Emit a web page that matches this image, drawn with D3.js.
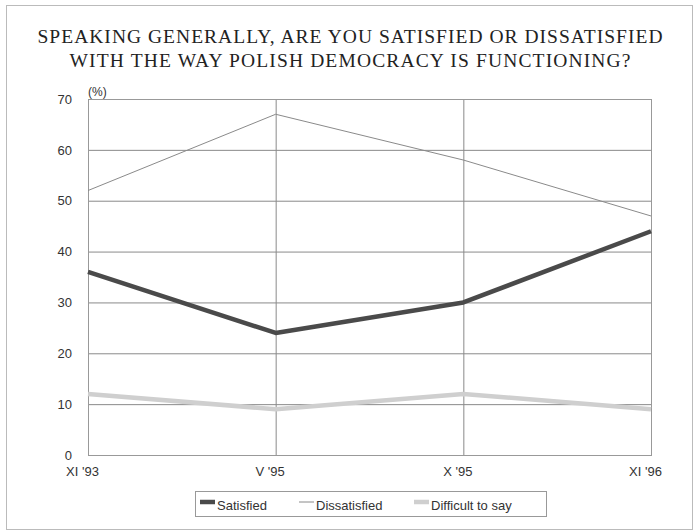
<!DOCTYPE html>
<html><head><meta charset="utf-8">
<script src="https://cdn.jsdelivr.net/npm/d3@7"></script>
<style>body{margin:0;background:#fff}svg{display:block}</style>
</head><body>
<svg id="c" width="693" height="532"></svg>
<script>
const categories = ["XI '93", "V '95", "X '95", "XI '96"];
const satisfied = [36, 24, 30, 44];
const dissatisfied = [52, 67, 58, 47];
const difficult = [12, 9, 12, 9];
const yTicks = [0, 10, 20, 30, 40, 50, 60, 70];
const titleLines = ["SPEAKING GENERALLY, ARE YOU SATISFIED OR DISSATISFIED", "WITH THE WAY POLISH DEMOCRACY IS FUNCTIONING?"];
const seriesNames = ["Satisfied", "Dissatisfied", "Difficult to say"];

const svg = d3.select("#c");
const L = 88, R = 651, T = 99, B = 455;
const x = d3.scalePoint().domain(categories).range([L, R]);
const y = d3.scaleLinear().domain([0, 70]).range([B, T]);
const SANS = '"Liberation Sans", Arial, sans-serif';

// outer frame
svg.append("rect").attr("x", 6.5).attr("y", 5.5).attr("width", 686).attr("height", 524)
  .attr("fill", "none").attr("stroke", "#bbb").attr("stroke-width", 1);

// title
const titleWidths = [625, 561];
titleLines.forEach((t, i) => {
  const tx = svg.append("text").attr("y", 43 + i * 24)
    .style("font-family", '"Liberation Serif"').style("font-size", "19.5px").style("fill", "#222")
    .text(t);
  const w = tx.node().getComputedTextLength();
  const ls = (titleWidths[i] - w) / (t.length - 1);
  tx.style("letter-spacing", ls + "px");
  const w2 = tx.node().getComputedTextLength();
  tx.attr("x", 350 - (w2 - ls) / 2);
});

// gridlines
svg.append("g").selectAll("line").data(yTicks.filter(d => d > 0 && d < 70)).join("line")
  .attr("x1", L).attr("x2", R).attr("y1", d => y(d) + 0.5).attr("y2", d => y(d) + 0.5)
  .attr("stroke", "#8a8a8a").attr("stroke-width", 1);
svg.append("g").selectAll("line").data(categories.slice(1, -1)).join("line")
  .attr("x1", d => x(d) + 0.5).attr("x2", d => x(d) + 0.5).attr("y1", T).attr("y2", B)
  .attr("stroke", "#8a8a8a").attr("stroke-width", 1);

// plot border
svg.append("rect").attr("x", L + 0.5).attr("y", T + 0.5).attr("width", R - L).attr("height", B - T)
  .attr("fill", "none").attr("stroke", "#999").attr("stroke-width", 1);

// y axis labels
const yAxis = d3.axisLeft(y).tickValues(yTicks).tickSize(0).tickPadding(16);
const ya = svg.append("g").attr("transform", `translate(${L},0)`).call(yAxis);
ya.select(".domain").remove();
ya.selectAll("text").style("font-family", SANS)
  .style("font-size", "13px").attr("fill", "#333");

svg.append("text").attr("x", 88).attr("y", 96)
  .style("font-family", SANS).style("font-size", "12px").attr("fill", "#333")
  .text("(%)");

// x axis labels
const xAxis = d3.axisBottom(x).tickSize(0).tickPadding(12);
const xa = svg.append("g").attr("transform", `translate(-6,${B})`).call(xAxis);
xa.select(".domain").remove();
xa.selectAll("text").style("font-family", SANS)
  .style("font-size", "13px").attr("fill", "#333");

// lines
const line = d3.line().x((d, i) => x(categories[i])).y(d => y(d));
const styles = [
  {data: satisfied, color: "#4a4a4a", w: 4.5},
  {data: dissatisfied, color: "#8a8a8a", w: 1},
  {data: difficult, color: "#cfcfcf", w: 4.5}
];
[styles[2], styles[1], styles[0]].forEach(s => {
  svg.append("path").datum(s.data).attr("d", line)
    .attr("fill", "none").attr("stroke", s.color).attr("stroke-width", s.w)
    .attr("stroke-linejoin", "round");
});

// legend
const lg = svg.append("g");
lg.append("rect").attr("x", 195.5).attr("y", 491.5).attr("width", 351).attr("height", 25)
  .attr("fill", "#fff").attr("stroke", "#999");
const legendX = [200, 299, 414];
seriesNames.forEach((n, i) => {
  lg.append("line").attr("x1", legendX[i]).attr("x2", legendX[i] + 15)
    .attr("y1", 502).attr("y2", 502)
    .attr("stroke", styles[i].color).attr("stroke-width", styles[i].w);
  lg.append("text").attr("x", legendX[i] + 17).attr("y", 510)
    .style("font-family", SANS).style("font-size", "13px").attr("fill", "#333")
    .text(n);
});
</script>
</body></html>
